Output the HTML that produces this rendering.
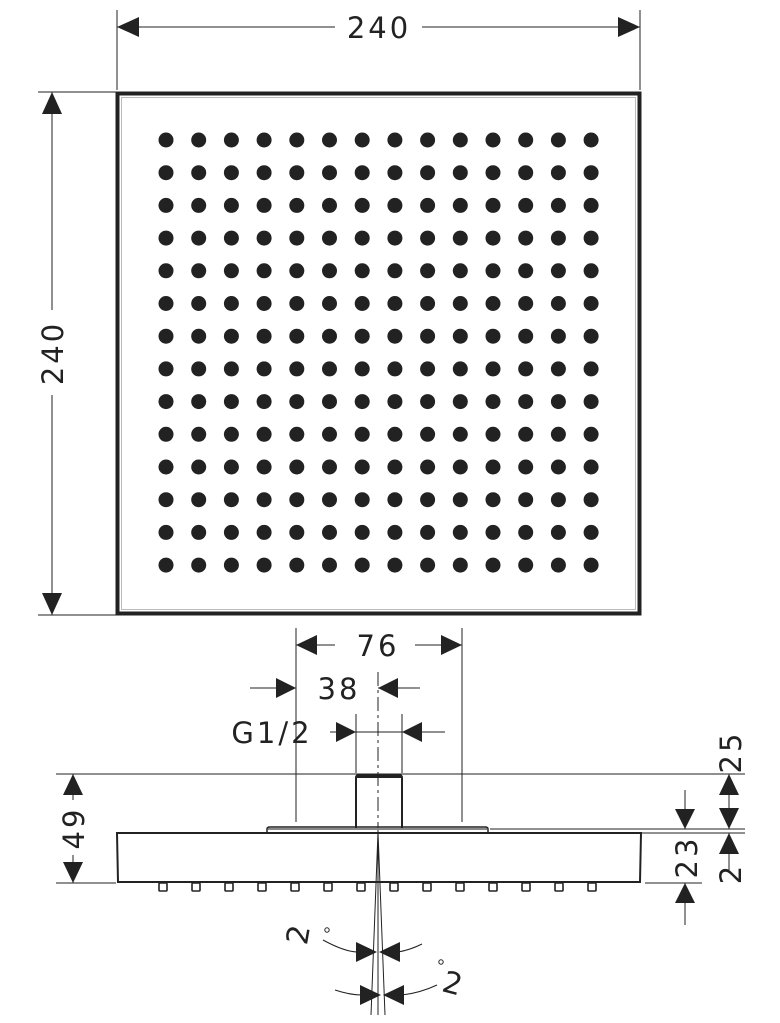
<!DOCTYPE html>
<html><head><meta charset="utf-8"><style>
html,body{margin:0;padding:0;background:#fff;}
svg{display:block;}
text{font-family:"DejaVu Sans","Liberation Sans",sans-serif;fill:#222;}
</style></head><body>
<svg width="780" height="1023" viewBox="0 0 780 1023" xmlns="http://www.w3.org/2000/svg">
<g stroke="#222" stroke-width="1" fill="none">
<line x1="117" y1="10" x2="117" y2="90"/>
<line x1="640" y1="10" x2="640" y2="90"/>
<line x1="117" y1="27" x2="335" y2="27"/>
<line x1="422" y1="27" x2="640" y2="27"/>
<line x1="38" y1="92" x2="116" y2="92"/>
<line x1="38" y1="615" x2="116" y2="615"/>
<line x1="52" y1="92" x2="52" y2="310"/>
<line x1="52" y1="395" x2="52" y2="615"/>
<rect x="117.5" y="93.5" width="522" height="520" stroke-width="4"/>
<rect x="121.5" y="97.5" width="514" height="512" stroke-width="1" stroke="#bbb"/>
<line x1="296" y1="628" x2="296" y2="822"/>
<line x1="462" y1="628" x2="462" y2="822"/>
<line x1="296" y1="645" x2="335" y2="645"/>
<line x1="415" y1="645" x2="462" y2="645"/>
<line x1="250" y1="688" x2="296" y2="688"/>
<line x1="378" y1="688" x2="420" y2="688"/>
<line x1="330" y1="732" x2="445" y2="732"/>
<line x1="356" y1="714" x2="356" y2="773"/>
<line x1="402" y1="714" x2="402" y2="773"/>
<line x1="378" y1="672" x2="378" y2="832" stroke-dasharray="14,4,3,4"/>
<line x1="56" y1="774" x2="745" y2="774"/>
<line x1="490" y1="829" x2="745" y2="829"/>
<line x1="642" y1="833" x2="745" y2="833"/>
<line x1="56" y1="883" x2="116" y2="883"/>
<line x1="645" y1="883" x2="702" y2="883"/>
<line x1="73" y1="774" x2="73" y2="800"/>
<line x1="73" y1="855" x2="73" y2="883"/>
<line x1="685" y1="790" x2="685" y2="829"/>
<line x1="685" y1="883" x2="685" y2="925"/>
<line x1="729" y1="774" x2="729" y2="829"/>
<line x1="729" y1="833" x2="729" y2="870"/>
<path d="M356 830 V778 Q356 775 359 775 H399 Q402 775 402 778 V830" stroke-width="2"/>
<line x1="357" y1="776.5" x2="401" y2="776.5" stroke-width="3"/>
<path d="M267 832 V829 Q267 827 270 827 H485 Q488 827 488 829 V832" stroke-width="1.5"/>
<line x1="268" y1="829" x2="487" y2="829" stroke="#888" stroke-width="2"/>
<path d="M117 833 H641 L640 882 H118 Z" stroke-width="2"/>
<line x1="378" y1="832" x2="371" y2="1015"/>
<line x1="378" y1="832" x2="385" y2="1015"/>
<line x1="378" y1="832" x2="378" y2="1015"/>
<path d="M323 940 Q345 952 358 952"/>
<path d="M398 952 Q410 950 422 944"/>
<path d="M335 990 Q350 995 362 995"/>
<path d="M402 995 Q420 993 437 985"/>
<circle cx="327" cy="930" r="2.2"/>
<circle cx="441" cy="962" r="2.2"/>
</g>
<g fill="#222">
<polygon points="117,27 139,17 139,37"/>
<polygon points="640,27 618,17 618,37"/>
<polygon points="52,92 42,114 62,114"/>
<polygon points="52,615 42,593 62,593"/>
<polygon points="296,645 317,635 317,655"/>
<polygon points="462,645 441,635 441,655"/>
<polygon points="296,688 276,678 276,698"/>
<polygon points="378,688 398,678 398,698"/>
<polygon points="356,732 336,722 336,742"/>
<polygon points="402,732 422,722 422,742"/>
<polygon points="73,774 63,795 83,795"/>
<polygon points="73,883 63,862 83,862"/>
<polygon points="685,829 675,809 695,809"/>
<polygon points="685,883 675,903 695,903"/>
<polygon points="729,774 719,795 739,795"/>
<polygon points="729,829 719,808 739,808"/>
<polygon points="729,833 719,854 739,854"/>
<polygon points="377,952 356,942 356,962"/>
<polygon points="379,952 400,942 400,962"/>
<polygon points="381,995 360,985 360,1005"/>
<polygon points="383,995 404,985 404,1005"/>
</g>
<text x="379" y="38" font-size="29" text-anchor="middle" letter-spacing="3">240</text>
<text transform="translate(63,353) rotate(-90)" font-size="29" text-anchor="middle" letter-spacing="3">240</text>
<text x="378" y="656" font-size="29" text-anchor="middle" letter-spacing="3">76</text>
<text x="339" y="699" font-size="29" text-anchor="middle" letter-spacing="3">38</text>
<text x="272" y="743" font-size="29" text-anchor="middle" letter-spacing="3">G1/2</text>
<text transform="translate(84,828) rotate(-90)" font-size="29" text-anchor="middle" letter-spacing="3">49</text>
<text transform="translate(741,752) rotate(-90)" font-size="29" text-anchor="middle" letter-spacing="3">25</text>
<text transform="translate(697,857) rotate(-90)" font-size="29" text-anchor="middle" letter-spacing="3">23</text>
<text transform="translate(741,875) rotate(-90)" font-size="29" text-anchor="middle">2</text>
<text transform="translate(300,935) rotate(-80)" font-size="30" text-anchor="middle" dominant-baseline="middle">2</text>
<text transform="translate(452,985) rotate(15)" font-size="30" text-anchor="middle" dominant-baseline="middle">2</text>
<g fill="#222">
<g id="row">
<circle cx="166" cy="140" r="7.5"/><circle cx="198.7" cy="140" r="7.5"/><circle cx="231.4" cy="140" r="7.5"/><circle cx="264.1" cy="140" r="7.5"/><circle cx="296.8" cy="140" r="7.5"/><circle cx="329.5" cy="140" r="7.5"/><circle cx="362.2" cy="140" r="7.5"/><circle cx="394.9" cy="140" r="7.5"/><circle cx="427.6" cy="140" r="7.5"/><circle cx="460.3" cy="140" r="7.5"/><circle cx="493" cy="140" r="7.5"/><circle cx="525.7" cy="140" r="7.5"/><circle cx="558.4" cy="140" r="7.5"/><circle cx="591.1" cy="140" r="7.5"/>
</g>
<use href="#row" y="32.7"/><use href="#row" y="65.4"/><use href="#row" y="98.1"/><use href="#row" y="130.8"/><use href="#row" y="163.5"/><use href="#row" y="196.2"/><use href="#row" y="228.9"/><use href="#row" y="261.6"/><use href="#row" y="294.3"/><use href="#row" y="327"/><use href="#row" y="359.7"/><use href="#row" y="392.4"/><use href="#row" y="425.1"/>
</g>
<g fill="#fff" stroke="#222" stroke-width="1.6">
<rect x="159" y="883" width="8" height="8" rx="1"/><rect x="192" y="883" width="8" height="8" rx="1"/><rect x="225" y="883" width="8" height="8" rx="1"/><rect x="258" y="883" width="8" height="8" rx="1"/><rect x="291" y="883" width="8" height="8" rx="1"/><rect x="324" y="883" width="8" height="8" rx="1"/><rect x="357" y="883" width="8" height="8" rx="1"/><rect x="390" y="883" width="8" height="8" rx="1"/><rect x="423" y="883" width="8" height="8" rx="1"/><rect x="456" y="883" width="8" height="8" rx="1"/><rect x="489" y="883" width="8" height="8" rx="1"/><rect x="522" y="883" width="8" height="8" rx="1"/><rect x="555" y="883" width="8" height="8" rx="1"/><rect x="588" y="883" width="8" height="8" rx="1"/>
</g>
</svg>
</body></html>
